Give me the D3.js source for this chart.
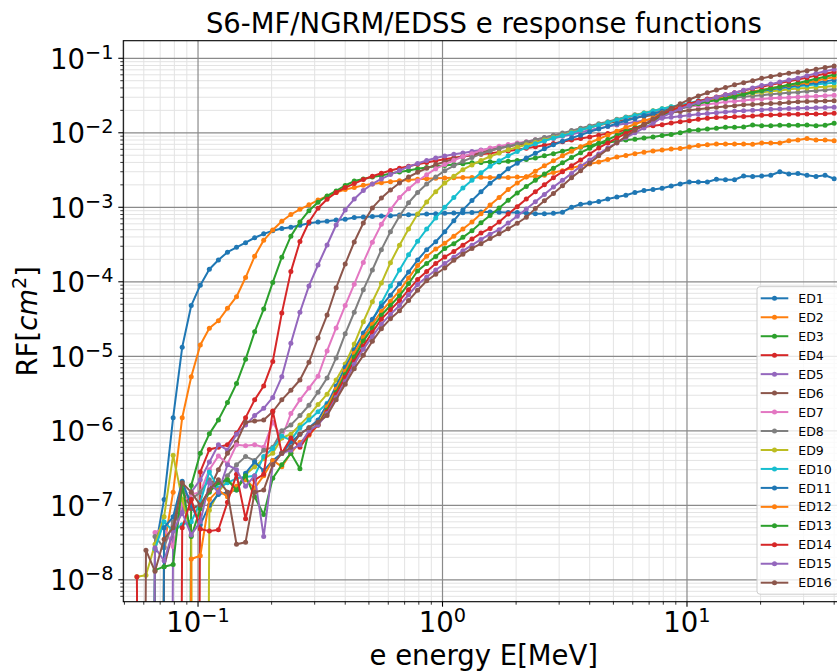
<!DOCTYPE html>
<html>
<head>
<meta charset="utf-8">
<script src="https://cdn.jsdelivr.net/npm/d3@7"></script>
<style>
body { margin: 0; background: #fff; }
svg { display: block; font-family: "DejaVu Sans", sans-serif; }
</style>
</head>
<body>
<div id="chart"></div>
<script>
// electron energy grid [MeV]
var energy = [0.05623,0.06124,0.06669,0.07263,0.0791,0.08615,0.09381,0.10216,0.11125,0.12115,
0.13195,0.14369,0.15649,0.17043,0.18561,0.20214,0.22014,0.23975,0.2611,0.2843,
0.3096,0.3372,0.3672,0.3999,0.4355,0.4743,0.5165,0.5623,0.6124,0.6669,
0.7263,0.791,0.8615,0.9381,1.0216,1.1125,1.2115,1.3195,1.4369,1.5649,
1.7043,1.8561,2.0214,2.2014,2.3975,2.6102,2.8427,3.0959,3.3716,3.6719,
3.9989,4.3551,4.743,5.1653,5.6234,6.1242,6.6697,7.2637,7.9106,8.6151,
9.3804,10.216,11.125,12.115,13.195,14.369,15.649,17.043,18.561,20.214,
22.014,23.975,26.102,28.427,30.959,33.716,36.719,39.989];

// response functions RF [cm^2], 0 = no counts
var ED1 = [0,0,2.5e-8,1.2e-7,1.5e-6,1.32e-5,4.8e-5,9e-5,1.47e-4,1.96e-4,
2.5e-4,2.9e-4,3.35e-4,3.9e-4,4.4e-4,4.85e-4,5.2e-4,5.4e-4,5.75e-4,6.1e-4,
6.35e-4,6.5e-4,6.75e-4,6.9e-4,7.3e-4,7.4e-4,7.55e-4,7.65e-4,7.7e-4,7.9e-4,
7.95e-4,8e-4,8.1e-4,8.2e-4,8.3e-4,8.4e-4,8.45e-4,8.5e-4,8.65e-4,8.65e-4,
8.6e-4,8.5e-4,8.5e-4,8.4e-4,8.2e-4,8.2e-4,8.3e-4,8.6e-4,1.0e-3,1.1e-3,
1.14e-3,1.2e-3,1.29e-3,1.37e-3,1.45e-3,1.58e-3,1.68e-3,1.73e-3,1.8e-3,1.93e-3,
2.05e-3,2.19e-3,2.19e-3,2.19e-3,2.38e-3,2.34e-3,2.34e-3,2.63e-3,2.59e-3,2.63e-3,
2.69e-3,3.0e-3,2.8e-3,2.84e-3,2.69e-3,2.59e-3,2.69e-3,2.42e-3];
var ED2 = [0,0,0,2.8e-8,1.5e-7,1.5e-6,5.3e-6,1.42e-5,2.38e-5,3e-5,
4.4e-5,6.3e-5,1.14e-4,2.2e-4,3.6e-4,4.95e-4,6.5e-4,8e-4,9.4e-4,1.08e-3,
1.25e-3,1.41e-3,1.58e-3,1.73e-3,1.84e-3,1.97e-3,2.06e-3,2.13e-3,2.21e-3,2.27e-3,
2.32e-3,2.37e-3,2.41e-3,2.45e-3,2.48e-3,2.5e-3,2.52e-3,2.52e-3,2.53e-3,2.52e-3,
2.53e-3,2.52e-3,2.54e-3,2.56e-3,2.6e-3,2.7e-3,2.93e-3,3.1e-3,3.37e-3,3.6e-3,
3.81e-3,4.05e-3,4.38e-3,4.73e-3,4.95e-3,5.25e-3,5.5e-3,5.7e-3,5.87e-3,6.05e-3,
6.15e-3,6.45e-3,6.75e-3,6.9e-3,7.07e-3,7.07e-3,7.07e-3,7.07e-3,7e-3,7.3e-3,
7.3e-3,7.3e-3,7.83e-3,8e-3,8.4e-3,8e-3,8e-3,7.83e-3];
var ED3 = [0,0,0,0,0,0,1.85e-7,5e-7,9.1e-7,1.4e-6,
2.4e-6,4.3e-6,9.1e-6,2.13e-5,4.3e-5,9.8e-5,2.14e-4,4.1e-4,6.35e-4,9e-4,
1.17e-3,1.42e-3,1.66e-3,1.96e-3,2.25e-3,2.4e-3,2.55e-3,2.66e-3,2.84e-3,2.97e-3,
3.12e-3,3.3e-3,3.43e-3,3.55e-3,3.65e-3,3.75e-3,3.85e-3,3.97e-3,4e-3,4.07e-3,
4.05e-3,4.15e-3,4.26e-3,4.38e-3,4.6e-3,4.9e-3,5.25e-3,5.65e-3,6.05e-3,6.4e-3,
6.75e-3,7.2e-3,7.4e-3,7.7e-3,8e-3,8.2e-3,8.5e-3,8.8e-3,9.2e-3,9.5e-3,
1e-2,1.07e-2,1.09e-2,1.12e-2,1.15e-2,1.19e-2,1.19e-2,1.2e-2,1.27e-2,1.24e-2,
1.24e-2,1.26e-2,1.26e-2,1.26e-2,1.27e-2,1.24e-2,1.26e-2,1.34e-2];
var ED4 = [0,0,0,0,0,0,0,2.8e-7,5.6e-7,6e-7,
6.5e-7,9.3e-7,1.5e-6,2.6e-6,4e-6,8.5e-6,3.8e-5,1.37e-4,3.47e-4,6.35e-4,
9.7e-4,1.28e-3,1.58e-3,1.84e-3,2.08e-3,2.36e-3,2.61e-3,2.86e-3,3.12e-3,3.34e-3,
3.55e-3,3.79e-3,3.99e-3,4.21e-3,4.41e-3,4.62e-3,4.81e-3,4.99e-3,5.14e-3,5.31e-3,
5.5e-3,5.7e-3,5.9e-3,6.2e-3,6.5e-3,6.8e-3,7.2e-3,7.6e-3,8e-3,8.4e-3,
8.8e-3,9.3e-3,9.8e-3,1.03e-2,1.09e-2,1.15e-2,1.2e-2,1.24e-2,1.28e-2,1.35e-2,
1.41e-2,1.45e-2,1.52e-2,1.57e-2,1.6e-2,1.62e-2,1.64e-2,1.66e-2,1.68e-2,1.72e-2,
1.73e-2,1.75e-2,1.77e-2,1.78e-2,1.79e-2,1.79e-2,1.8e-2,1.83e-2];
var ED5 = [0,0,0,0,5.5e-8,9e-8,1.5e-7,2.2e-7,3.8e-7,6.5e-7,
5.5e-7,9e-7,1.2e-6,1.6e-6,2e-6,2.8e-6,5.3e-6,1.5e-5,3.9e-5,8.8e-5,
1.68e-4,3.12e-4,5.78e-4,9.2e-4,1.29e-3,1.68e-3,2.06e-3,2.4e-3,2.75e-3,3.11e-3,
3.51e-3,3.87e-3,4.25e-3,4.59e-3,4.89e-3,5.14e-3,5.37e-3,5.6e-3,5.87e-3,6.05e-3,
6.4e-3,6.65e-3,6.95e-3,7.2e-3,7.55e-3,8e-3,8.4e-3,9e-3,9.5e-3,1.02e-2,
1.08e-2,1.15e-2,1.21e-2,1.27e-2,1.33e-2,1.4e-2,1.46e-2,1.52e-2,1.57e-2,1.62e-2,
1.67e-2,1.72e-2,1.77e-2,1.82e-2,1.86e-2,1.9e-2,1.95e-2,1.97e-2,2e-2,2.03e-2,
2.07e-2,2.08e-2,2.12e-2,2.13e-2,2.15e-2,2.17e-2,2.18e-2,2.2e-2];
var ED6 = [0,0,0,1.5e-8,4.5e-8,1.6e-7,9e-8,1e-7,1.6e-7,3e-7,
5e-7,7e-7,1.3e-6,1.35e-6,1.4e-6,1.8e-6,2.6e-6,3.5e-6,4.8e-6,8.3e-6,
1.76e-5,3.58e-5,8.3e-5,1.73e-4,3.42e-4,6.15e-4,9.8e-4,1.33e-3,1.71e-3,2.12e-3,
2.55e-3,2.95e-3,3.33e-3,3.74e-3,4.09e-3,4.45e-3,4.8e-3,5.12e-3,5.42e-3,5.82e-3,
6.2e-3,6.55e-3,6.9e-3,7.25e-3,7.6e-3,8.25e-3,8.9e-3,9.5e-3,1.03e-2,1.1e-2,
1.18e-2,1.26e-2,1.34e-2,1.43e-2,1.51e-2,1.58e-2,1.66e-2,1.73e-2,1.8e-2,1.87e-2,
1.93e-2,2e-2,2.07e-2,2.14e-2,2.2e-2,2.26e-2,2.3e-2,2.37e-2,2.4e-2,2.43e-2,
2.47e-2,2.5e-2,2.55e-2,2.6e-2,2.62e-2,2.65e-2,2.68e-2,2.7e-2];
var ED7 = [0,0,4.3e-8,5e-8,2.8e-8,1.1e-7,1.4e-7,1.5e-7,3e-7,4.6e-7,
3.6e-7,6.5e-7,6.3e-7,6.5e-7,6e-7,1.3e-6,8e-7,1.7e-6,2.6e-6,3.75e-6,
5.4e-6,1.18e-5,2.4e-5,4.8e-5,9.3e-5,1.82e-4,3.4e-4,5.9e-4,9.3e-4,1.35e-3,
1.77e-3,2.25e-3,2.73e-3,3.3e-3,3.75e-3,4.27e-3,4.8e-3,5.25e-3,5.8e-3,6.25e-3,
6.6e-3,6.95e-3,7.3e-3,7.6e-3,8.07e-3,8.6e-3,9.2e-3,9.8e-3,1.06e-2,1.13e-2,
1.21e-2,1.29e-2,1.38e-2,1.49e-2,1.58e-2,1.69e-2,1.78e-2,1.87e-2,1.96e-2,2.03e-2,
2.12e-2,2.24e-2,2.33e-2,2.42e-2,2.5e-2,2.6e-2,2.65e-2,2.72e-2,2.8e-2,2.85e-2,
2.9e-2,2.95e-2,2.98e-2,3.03e-2,3.07e-2,3.1e-2,3.15e-2,3.2e-2];
var ED8 = [0,0,3.8e-8,2.7e-8,6e-8,1.6e-7,1.2e-7,1.5e-7,2.2e-7,1.6e-7,
2.5e-7,3.5e-7,4.5e-7,4e-7,5.5e-7,6e-7,1e-6,1.2e-6,1.6e-6,2.2e-6,
3.3e-6,5.1e-6,9.5e-6,2e-5,3.9e-5,7.8e-5,1.44e-4,2.7e-4,4.7e-4,7.6e-4,
1.15e-3,1.58e-3,2.05e-3,2.55e-3,3.1e-3,3.6e-3,4.15e-3,4.65e-3,5.2e-3,5.7e-3,
6.2e-3,6.6e-3,7.05e-3,7.5e-3,8.05e-3,8.65e-3,9.3e-3,9.9e-3,1.07e-2,1.15e-2,
1.23e-2,1.32e-2,1.41e-2,1.52e-2,1.63e-2,1.74e-2,1.85e-2,1.96e-2,2.09e-2,2.19e-2,
2.3e-2,2.4e-2,2.53e-2,2.64e-2,2.75e-2,2.86e-2,2.95e-2,3.05e-2,3.12e-2,3.2e-2,
3.28e-2,3.37e-2,3.45e-2,3.5e-2,3.6e-2,3.67e-2,3.75e-2,3.83e-2];
var ED9 = [1.1e-8,1.15e-8,3e-8,7e-8,4.7e-7,1.2e-7,4e-8,0,8.6e-8,1.5e-7,
2.2e-7,1.7e-7,2.6e-7,3.3e-7,4.2e-7,5e-7,8e-7,9e-7,1.2e-6,1.6e-6,
2.25e-6,3.1e-6,4.8e-6,7.9e-6,1.46e-5,2.9e-5,5.4e-5,9.6e-5,1.8e-4,3.1e-4,
5.1e-4,8.1e-4,1.18e-3,1.62e-3,2.12e-3,2.6e-3,3.2e-3,3.7e-3,4.25e-3,4.8e-3,
5.35e-3,5.9e-3,6.4e-3,6.9e-3,7.4e-3,8e-3,8.65e-3,9.3e-3,1.01e-2,1.09e-2,
1.18e-2,1.27e-2,1.37e-2,1.49e-2,1.6e-2,1.72e-2,1.84e-2,1.97e-2,2.1e-2,2.24e-2,
2.33e-2,2.45e-2,2.6e-2,2.77e-2,2.87e-2,3e-2,3.15e-2,3.28e-2,3.4e-2,3.5e-2,
3.6e-2,3.7e-2,3.83e-2,3.93e-2,4e-2,4.1e-2,4.15e-2,4.25e-2];
var ED10 = [0,0,2.6e-8,6e-8,4.5e-8,5.5e-8,6e-8,1.1e-7,2.8e-7,1.7e-7,
2e-7,2.3e-7,2.4e-7,2.5e-7,4.5e-7,5.8e-7,8.5e-7,7.5e-7,1.1e-6,1.4e-6,
1.8e-6,2.35e-6,3.3e-6,5.25e-6,8.9e-6,1.66e-5,3e-5,5.2e-5,8.8e-5,1.44e-4,
2.3e-4,3.5e-4,5.1e-4,7.2e-4,1e-3,1.35e-3,1.82e-3,2.3e-3,2.9e-3,3.55e-3,
4.2e-3,4.9e-3,5.6e-3,6.4e-3,7.1e-3,7.75e-3,8.5e-3,9.2e-3,9.9e-3,1.09e-2,
1.18e-2,1.27e-2,1.37e-2,1.49e-2,1.6e-2,1.71e-2,1.83e-2,1.96e-2,2.1e-2,2.23e-2,
2.36e-2,2.5e-2,2.7e-2,2.83e-2,2.97e-2,3.1e-2,3.25e-2,3.4e-2,3.52e-2,3.67e-2,
3.8e-2,3.95e-2,4.1e-2,4.2e-2,4.35e-2,4.45e-2,4.6e-2,4.7e-2];
var ED11 = [0,0,0,5e-8,7e-8,2.1e-7,1e-7,5.5e-8,1e-7,1.4e-7,
1.5e-7,1.6e-7,2.7e-7,3.8e-7,2.9e-7,4e-7,5e-7,7e-7,9e-7,1.1e-6,
1.4e-6,2.25e-6,4e-6,7.1e-6,1.22e-5,2.05e-5,3.15e-5,4.7e-5,6.6e-5,9.4e-5,
1.35e-4,1.96e-4,2.7e-4,3.45e-4,4.7e-4,6.6e-4,9.2e-4,1.23e-3,1.62e-3,2.1e-3,
2.6e-3,3.3e-3,3.9e-3,4.6e-3,5.3e-3,6.1e-3,6.9e-3,7.7e-3,8.5e-3,9.3e-3,
1.03e-2,1.12e-2,1.22e-2,1.33e-2,1.45e-2,1.56e-2,1.7e-2,1.8e-2,1.95e-2,2.1e-2,
2.25e-2,2.4e-2,2.57e-2,2.7e-2,2.88e-2,3e-2,3.15e-2,3.3e-2,3.5e-2,3.67e-2,
3.83e-2,4e-2,4.15e-2,4.35e-2,4.5e-2,4.7e-2,4.9e-2,5.1e-2];
var ED12 = [0,0,0,0,0,0,1.9e-8,2.1e-8,1.2e-7,1.6e-7,
1.3e-7,1.8e-7,2.2e-7,1.7e-7,2.5e-7,4e-7,3.3e-7,5e-7,7e-7,8.7e-7,
1.2e-6,2.1e-6,3.6e-6,6.3e-6,1.1e-5,1.8e-5,2.7e-5,4e-5,5.5e-5,7.6e-5,
1.12e-4,1.65e-4,2.2e-4,2.75e-4,3.3e-4,4.1e-4,5.1e-4,6.35e-4,8.2e-4,1.07e-3,
1.35e-3,1.73e-3,2.12e-3,2.55e-3,3.05e-3,3.6e-3,4.2e-3,4.9e-3,5.65e-3,6.5e-3,
7.35e-3,8.25e-3,9.3e-3,1.05e-2,1.18e-2,1.3e-2,1.45e-2,1.58e-2,1.85e-2,2.05e-2,
2.25e-2,2.42e-2,2.58e-2,2.72e-2,2.85e-2,2.98e-2,3.12e-2,3.35e-2,3.58e-2,3.75e-2,
3.95e-2,4.15e-2,4.35e-2,4.5e-2,4.7e-2,4.98e-2,5.3e-2,5.56e-2];
var ED13 = [0,0,1.35e-8,1.5e-8,1.6e-8,1.9e-7,3.8e-8,9e-8,1.5e-7,2e-7,
2.2e-7,1.6e-7,2.5e-7,1.3e-7,7.5e-8,2.3e-7,3.5e-7,5e-7,3.1e-7,1e-6,
1.2e-6,1.9e-6,3.3e-6,5.7e-6,9.8e-6,1.6e-5,2.4e-5,3.55e-5,4.8e-5,6.5e-5,
9.4e-5,1.4e-4,1.76e-4,2.18e-4,2.8e-4,3.25e-4,3.95e-4,4.85e-4,6.2e-4,7.75e-4,
9.8e-4,1.24e-3,1.56e-3,1.9e-3,2.3e-3,2.8e-3,3.35e-3,3.95e-3,4.65e-3,5.4e-3,
6.2e-3,7.2e-3,8.1e-3,9.2e-3,1.04e-2,1.16e-2,1.29e-2,1.43e-2,1.72e-2,1.9e-2,
2.1e-2,2.28e-2,2.45e-2,2.6e-2,2.75e-2,2.9e-2,3.07e-2,3.3e-2,3.5e-2,3.7e-2,
3.95e-2,4.15e-2,4.4e-2,4.65e-2,4.95e-2,5.3e-2,5.65e-2,6e-2];
var ED14 = [1.1e-8,0,0,0,0,5e-8,1.2e-7,4.8e-8,4.5e-8,4.7e-8,
1.1e-7,2.6e-7,6.6e-8,2.2e-7,2.6e-7,1.85e-6,5e-7,8e-7,6e-7,9e-7,
1.2e-6,1.8e-6,3.1e-6,5.2e-6,8.6e-6,1.37e-5,2.1e-5,3.15e-5,4.2e-5,5.6e-5,
7.8e-5,1.07e-4,1.37e-4,1.76e-4,2.15e-4,2.55e-4,3.1e-4,3.75e-4,4.5e-4,5.2e-4,
6.35e-4,8.1e-4,1.02e-3,1.29e-3,1.62e-3,2e-3,2.5e-3,3e-3,3.6e-3,4.3e-3,
5.2e-3,6.25e-3,7.3e-3,8.5e-3,9.8e-3,1.12e-2,1.29e-2,1.49e-2,1.8e-2,2e-2,
2.22e-2,2.45e-2,2.65e-2,2.85e-2,3.02e-2,3.25e-2,3.45e-2,3.7e-2,3.93e-2,4.15e-2,
4.4e-2,4.65e-2,4.93e-2,5.2e-2,5.5e-2,5.85e-2,6.2e-2,6.55e-2];
var ED15 = [0,0,2.7e-8,1.8e-8,4.5e-8,8e-8,4e-8,6e-8,2e-7,1.5e-7,
3.5e-7,3e-7,1.8e-7,2.5e-7,3.8e-8,3.5e-7,5e-7,5.5e-7,6.5e-7,1e-6,
1.2e-6,1.7e-6,2.8e-6,4.6e-6,7.8e-6,1.24e-5,1.85e-5,2.7e-5,3.65e-5,4.8e-5,
6.7e-5,9.2e-5,1.16e-4,1.44e-4,1.76e-4,2.14e-4,2.6e-4,3.1e-4,3.7e-4,4.35e-4,
5e-4,6.15e-4,7.6e-4,9.5e-4,1.19e-3,1.49e-3,1.87e-3,2.3e-3,2.85e-3,3.55e-3,
4.3e-3,5.2e-3,6.25e-3,7.3e-3,8.6e-3,1e-2,1.16e-2,1.34e-2,1.62e-2,1.85e-2,
2.1e-2,2.33e-2,2.55e-2,2.78e-2,3e-2,3.25e-2,3.45e-2,3.73e-2,4e-2,4.3e-2,
4.5e-2,4.8e-2,5.1e-2,5.4e-2,5.85e-2,6.25e-2,6.7e-2,7.1e-2];
var ED16 = [0,2.5e-8,1.3e-8,3.5e-8,5e-8,2e-7,1.5e-7,1e-7,1.6e-7,2.2e-7,
1.5e-7,3e-8,3.2e-8,1.5e-7,1.6e-7,3.5e-7,5e-7,6e-7,9e-7,1.1e-6,
1.3e-6,1.6e-6,2.6e-6,4.2e-6,6.8e-6,1.03e-5,1.59e-5,2.35e-5,3.2e-5,4.1e-5,
5.6e-5,7.7e-5,1.03e-4,1.26e-4,1.53e-4,1.94e-4,2.35e-4,2.8e-4,3.25e-4,3.8e-4,
4.4e-4,5.15e-4,6.1e-4,7.35e-4,9.6e-4,1.22e-3,1.53e-3,1.95e-3,2.5e-3,3.1e-3,
3.9e-3,4.9e-3,6e-3,7.35e-3,8.95e-3,1.08e-2,1.28e-2,1.53e-2,1.83e-2,2.13e-2,
2.45e-2,2.8e-2,3.12e-2,3.45e-2,3.75e-2,4.05e-2,4.4e-2,4.7e-2,5e-2,5.4e-2,
5.7e-2,6e-2,6.3e-2,6.5e-2,6.8e-2,7.15e-2,7.5e-2,7.9e-2];

var names = ["ED1","ED2","ED3","ED4","ED5","ED6","ED7","ED8","ED9","ED10","ED11","ED12","ED13","ED14","ED15","ED16"];
var seriesValues = [ED1,ED2,ED3,ED4,ED5,ED6,ED7,ED8,ED9,ED10,ED11,ED12,ED13,ED14,ED15,ED16];

var xMajorTicks = [0.1, 1, 10];
var xTickLabels = ["\u22121", "0", "1"];
var yMajorTicks = [1e-8, 1e-7, 1e-6, 1e-5, 1e-4, 1e-3, 1e-2, 1e-1];
var yTickLabels = ["\u22128", "\u22127", "\u22126", "\u22125", "\u22124", "\u22123", "\u22122", "\u22121"];

function init(){

var w = 837;
var h = 672;
var left = 123.3, right = 844.3, top = 40.7, bottom = 601.7;

var color = d3.scaleOrdinal(d3.schemeCategory10);

var x = d3.scaleLog().domain([0.04947, 44]).range([left, right]);
var y = d3.scaleLog().domain([5.08e-9, 0.1722]).range([bottom, top]);

var svg = d3.select("#chart")
            .append("svg")
            .attr("width", w)
            .attr("height", h);

svg.append("defs").append("clipPath").attr("id", "plotclip")
   .append("rect")
   .attr("x", left).attr("y", top)
   .attr("width", right - left).attr("height", bottom - top);

// minor tick positions: 2..9 times each decade inside the axes
var xMinor = [], yMinor = [];
[0.01, 0.1, 1, 10].forEach(function(d){
    for (var m = 2; m < 10; m++) {
        var v = m * d;
        if (v > x.domain()[0] && v < x.domain()[1]) xMinor.push(v);
    }
});
[1e-9, 1e-8, 1e-7, 1e-6, 1e-5, 1e-4, 1e-3, 1e-2, 1e-1].forEach(function(d){
    for (var m = 2; m < 10; m++) {
        var v = m * d;
        if (v > y.domain()[0] && v < y.domain()[1]) yMinor.push(v);
    }
});

// grid
var grid = svg.append("g");
grid.selectAll("line.xmin").data(xMinor).enter().append("line")
    .attr("x1", function(d){ return x(d); }).attr("x2", function(d){ return x(d); })
    .attr("y1", top).attr("y2", bottom)
    .attr("stroke", "#e3e3e3").attr("stroke-width", 1);
grid.selectAll("line.ymin").data(yMinor).enter().append("line")
    .attr("y1", function(d){ return y(d); }).attr("y2", function(d){ return y(d); })
    .attr("x1", left).attr("x2", right)
    .attr("stroke", "#e3e3e3").attr("stroke-width", 1);
grid.selectAll("line.xmaj").data(xMajorTicks).enter().append("line")
    .attr("x1", function(d){ return x(d); }).attr("x2", function(d){ return x(d); })
    .attr("y1", top).attr("y2", bottom)
    .attr("stroke", "#8a8a8a").attr("stroke-width", 1.2);
grid.selectAll("line.ymaj").data(yMajorTicks).enter().append("line")
    .attr("y1", function(d){ return y(d); }).attr("y2", function(d){ return y(d); })
    .attr("x1", left).attr("x2", right)
    .attr("stroke", "#8a8a8a").attr("stroke-width", 1.2);

// series: zero counts are sent far below the axis like matplotlib's clipping
var yv = function(v){ return v > 0 ? y(v) : y(1e-30); };
var line = d3.line()
    .x(function(d){ return x(d.e); })
    .y(function(d){ return yv(d.v); });

var plot = svg.append("g").attr("clip-path", "url(#plotclip)");
seriesValues.forEach(function(vals, i){
    var pts = vals.map(function(v, k){ return {e: energy[k], v: v}; });
    var g = plot.append("g");
    g.append("path")
     .attr("d", line(pts))
     .attr("fill", "none")
     .attr("stroke", color(i % 10))
     .attr("stroke-width", 2)
     .attr("stroke-linejoin", "round");
    g.selectAll("circle").data(pts.filter(function(d){ return d.v > 0; }))
     .enter().append("circle")
     .attr("cx", function(d){ return x(d.e); })
     .attr("cy", function(d){ return y(d.v); })
     .attr("r", 2.5)
     .attr("fill", color(i % 10));
});

// spines
svg.append("rect")
   .attr("x", left).attr("y", top)
   .attr("width", right - left).attr("height", bottom - top)
   .attr("fill", "none").attr("stroke", "#000").attr("stroke-width", 1.1);

// ticks
var ticks = svg.append("g").attr("stroke", "#000");
ticks.selectAll("line.xt").data(xMajorTicks).enter().append("line")
    .attr("x1", function(d){ return x(d); }).attr("x2", function(d){ return x(d); })
    .attr("y1", bottom).attr("y2", bottom + 5).attr("stroke-width", 1.1);
ticks.selectAll("line.xm").data(xMinor).enter().append("line")
    .attr("x1", function(d){ return x(d); }).attr("x2", function(d){ return x(d); })
    .attr("y1", bottom).attr("y2", bottom + 3).attr("stroke-width", 0.8);
ticks.selectAll("line.yt").data(yMajorTicks).enter().append("line")
    .attr("y1", function(d){ return y(d); }).attr("y2", function(d){ return y(d); })
    .attr("x1", left - 5).attr("x2", left).attr("stroke-width", 1.1);
ticks.selectAll("line.ym").data(yMinor).enter().append("line")
    .attr("y1", function(d){ return y(d); }).attr("y2", function(d){ return y(d); })
    .attr("x1", left - 3).attr("x2", left).attr("stroke-width", 0.8);

// tick labels 10^n
xMajorTicks.forEach(function(v, i){
    var t = svg.append("text")
        .attr("x", x(v)).attr("y", 631.5)
        .attr("text-anchor", "middle")
        .attr("font-size", 27.5).attr("fill", "#000");
    t.append("tspan").text("10");
    t.append("tspan").attr("font-size", 19.3).attr("dy", -10).text(xTickLabels[i]);
});
yMajorTicks.forEach(function(v, i){
    var t = svg.append("text")
        .attr("x", 113.5).attr("y", y(v) + 10.5)
        .attr("text-anchor", "end")
        .attr("font-size", 27.5).attr("fill", "#000");
    t.append("tspan").text("10");
    t.append("tspan").attr("font-size", 19.3).attr("dy", -10).text(yTickLabels[i]);
});

// title and axis labels
svg.append("text")
   .attr("x", (left + right) / 2).attr("y", 33)
   .attr("text-anchor", "middle")
   .attr("font-size", 27.5)
   .text("S6-MF/NGRM/EDSS e response functions");

svg.append("text")
   .attr("x", (left + right) / 2).attr("y", 665)
   .attr("text-anchor", "middle")
   .attr("font-size", 27.5)
   .text("e energy E[MeV]");

var yl = svg.append("text")
   .attr("transform", "translate(37," + ((top + bottom) / 2) + ") rotate(-90)")
   .attr("text-anchor", "middle")
   .attr("font-size", 27.5);
yl.append("tspan").text("RF[");
yl.append("tspan").attr("font-style", "italic").text("cm");
yl.append("tspan").attr("font-size", 19.3).attr("dy", -11).text("2");
yl.append("tspan").attr("dy", 11).text("]");

// legend
var lg = svg.append("g");
var rowH = 18.96, row0 = 298.3;
lg.append("rect")
  .attr("x", 757).attr("y", 286.7)
  .attr("width", 82).attr("height", 307.5)
  .attr("rx", 3)
  .attr("fill", "#fff").attr("fill-opacity", 0.8)
  .attr("stroke", "#cccccc").attr("stroke-width", 1);
var items = lg.selectAll("g.item").data(names).enter().append("g")
  .attr("transform", function(d, i){ return "translate(0," + (row0 + i * rowH) + ")"; });
items.append("line")
  .attr("x1", 760.7).attr("x2", 788.3)
  .attr("stroke", function(d, i){ return color(i % 10); })
  .attr("stroke-width", 2);
items.append("circle")
  .attr("cx", 774.5).attr("r", 2.5)
  .attr("fill", function(d, i){ return color(i % 10); });
items.append("text")
  .attr("x", 798.3).attr("y", 4.6)
  .attr("font-size", 12.5)
  .text(function(d){ return d; });
}
window.onload = init;
</script>
</body>
</html>
